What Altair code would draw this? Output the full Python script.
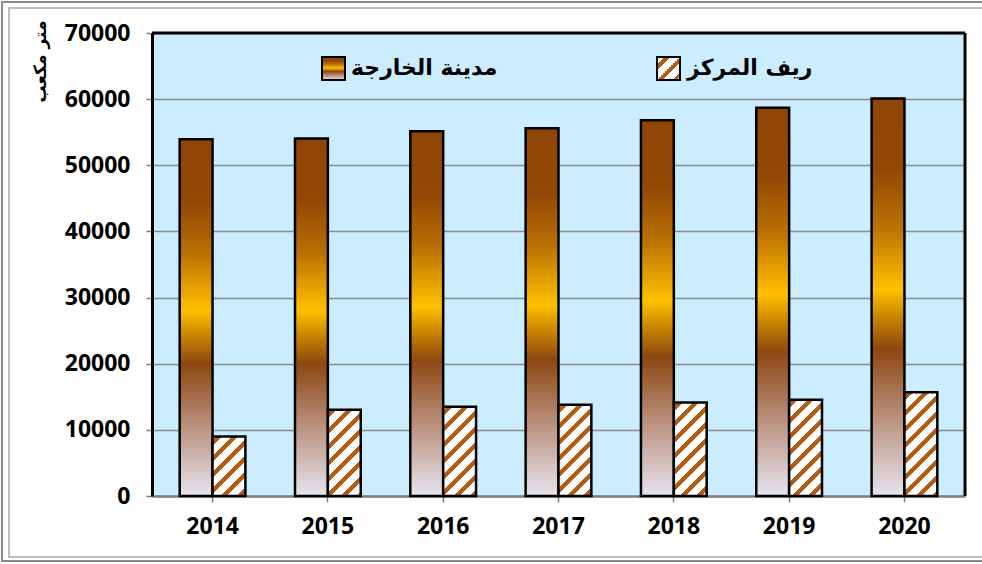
import altair as alt
import pandas as pd

# ---------------- data ----------------
years = ["2014", "2015", "2016", "2017", "2018", "2019", "2020"]
city_values = [53950, 54050, 55150, 55600, 56820, 58680, 60100]
rural_values = [9000, 13030, 13480, 13780, 14150, 14550, 15700]
series_names = ["مدينة الخارجة", "ريف المركز"]
y_ticks = [0, 10000, 20000, 30000, 40000, 50000, 60000, 70000]
y_title = "متر مكعب"

# ---------------- layout ----------------
W, H = 813, 463
Y_MAX = 70000
PAD_IN, PAD_OUT = 0.43, 0.24
NUM_FONT = "Open Sans"
AR_FONT = "DejaVu Sans"
STRIPE = "#B35C12"

rows = []
for yr, c, r in zip(years, city_values, rural_values):
    rows.append({"year": yr, "series": series_names[0], "value": c})
    rows.append({"year": yr, "series": series_names[1], "value": r})
df = pd.DataFrame(rows)

city_grad = alt.LinearGradient(
    gradient="linear", x1=0, y1=0, x2=0, y2=1,
    stops=[
        alt.GradientStop(offset=0.0, color="#8F4506"),
        alt.GradientStop(offset=0.18, color="#934905"),
        alt.GradientStop(offset=0.32, color="#BA7003"),
        alt.GradientStop(offset=0.48, color="#FFC000"),
        alt.GradientStop(offset=0.55, color="#C98600"),
        alt.GradientStop(offset=0.63, color="#8C4712"),
        alt.GradientStop(offset=0.80, color="#B98F7B"),
        alt.GradientStop(offset=1.0, color="#E6E4EE"),
    ],
)


def stripe_gradient(w, h, period=16.0, thick=6.0, phase=3.0):
    """45-degree stripes inside a w x h pixel box (objectBoundingBox units)."""
    c = w * (w + h) / (w * w + h * h)
    total = w + h
    stops = [alt.GradientStop(offset=0.0, color="white")]
    last = 0.0
    k = -1
    while k * period + phase < total:
        a = (k * period + phase) / total
        b = (k * period + phase + thick) / total
        a = min(max(a, 0.0), 1.0)
        b = min(max(b, 0.0), 1.0)
        if b > a:
            a = max(a, last)
            stops.append(alt.GradientStop(offset=round(a, 5), color="white"))
            stops.append(alt.GradientStop(offset=round(a, 5), color=STRIPE))
            stops.append(alt.GradientStop(offset=round(b, 5), color=STRIPE))
            stops.append(alt.GradientStop(offset=round(b, 5), color="white"))
            last = b
        k += 1
    stops.append(alt.GradientStop(offset=1.0, color="white"))
    return alt.LinearGradient(gradient="linear", x1=0, y1=0, x2=c, y2=c * h / w, stops=stops)


step = W / (len(years) - PAD_IN + 2 * PAD_OUT)
bar_w = step * (1 - PAD_IN) / 2

x_enc = alt.X(
    "year:N",
    sort=years,
    scale=alt.Scale(domain=years, paddingInner=PAD_IN, paddingOuter=PAD_OUT),
    axis=alt.Axis(
        title=None, labelAngle=0, labelFont=NUM_FONT, labelFontSize=23,
        labelFontWeight="bold", labelColor="black", labelPadding=13,
        domainColor="#7F7F7F", domainWidth=2.5, tickColor="#7F7F7F",
        tickSize=6, tickWidth=1.5, grid=False,
    ),
)
xo_enc = alt.XOffset(
    "series:N", scale=alt.Scale(domain=series_names, paddingInner=0, paddingOuter=0)
)
y_enc = alt.Y(
    "value:Q",
    scale=alt.Scale(domain=[0, Y_MAX], nice=False, zero=True),
    axis=alt.Axis(
        values=y_ticks, format="d", title=y_title, titleFont=AR_FONT,
        titleFontSize=17, titleFontWeight="bold", titleColor="black",
        titleAngle=270, titleX=-112, titleY=28, titleAlign="center",
        titleBaseline="middle", labelFont=NUM_FONT, labelFontSize=23,
        labelFontWeight="bold", labelColor="black", labelPadding=16,
        domainColor="black", domainWidth=3, tickColor="#7F7F7F",
        tickSize=6, tickWidth=1.5, grid=True, gridColor="#8C8C8C", gridWidth=1.5,
    ),
)

one = pd.DataFrame({"k": [0]})

# outer double frame
frame_outer = alt.Chart(one).mark_rect(fill="transparent", stroke="#8A8A8A", strokeWidth=2).encode(
    x=alt.value(-150), x2=alt.value(W + 40), y=alt.value(-31), y2=alt.value(H + 65)
)
frame_inner = alt.Chart(one).mark_rect(fill="transparent", stroke="#A8A8A8", strokeWidth=1.5).encode(
    x=alt.value(-143), x2=alt.value(W + 40), y=alt.value(-25), y2=alt.value(H + 61)
)

city_layer = alt.Chart(df).transform_filter(
    alt.datum.series == series_names[0]
).mark_bar(fill=city_grad, stroke="black", strokeWidth=2.5).encode(
    x=x_enc, xOffset=xo_enc, y=y_enc
)

rural_layers = []
for yr, r in zip(years, rural_values):
    h = r / Y_MAX * H
    rural_layers.append(
        alt.Chart(df).transform_filter(
            (alt.datum.series == series_names[1]) & (alt.datum.year == yr)
        ).mark_bar(fill=stripe_gradient(bar_w, h), stroke="black", strokeWidth=2.5).encode(
            x=x_enc, xOffset=xo_enc, y=y_enc
        )
    )

# borders (top and right)
top_rule = alt.Chart(one).mark_rule(color="black", strokeWidth=3).encode(
    x=alt.value(0), x2=alt.value(W), y=alt.value(0)
)
right_rule = alt.Chart(one).mark_rule(color="black", strokeWidth=3).encode(
    x=alt.value(W), y=alt.value(0), y2=alt.value(H)
)

# legend
SW = 23
leg_city_sw = alt.Chart(one).mark_rect(fill=city_grad, stroke="black", strokeWidth=2).encode(
    x=alt.value(170), x2=alt.value(170 + SW), y=alt.value(24), y2=alt.value(24 + SW)
)
leg_rural_sw = alt.Chart(one).mark_rect(
    fill=stripe_gradient(SW, SW, period=15, thick=5, phase=8), stroke="black", strokeWidth=2
).encode(
    x=alt.value(505), x2=alt.value(505 + SW), y=alt.value(24), y2=alt.value(24 + SW)
)
leg_df = pd.DataFrame({"label": series_names})
leg_city_tx = alt.Chart(leg_df).transform_filter(alt.datum.label == series_names[0]).mark_text(
    font=AR_FONT, fontSize=22, fontWeight="bold", color="black", align="left", baseline="middle"
).encode(text="label:N", x=alt.value(199), y=alt.value(35))
leg_rural_tx = alt.Chart(leg_df).transform_filter(alt.datum.label == series_names[1]).mark_text(
    font=AR_FONT, fontSize=22, fontWeight="bold", color="black", align="left", baseline="middle"
).encode(text="label:N", x=alt.value(535), y=alt.value(35))

chart = alt.layer(
    frame_outer, frame_inner, city_layer, *rural_layers, top_rule, right_rule,
    leg_city_sw, leg_rural_sw, leg_city_tx, leg_rural_tx,
).properties(
    width=W, height=H,
    autosize=alt.AutoSizeParams(type="none"),
    padding={"left": 152, "top": 33, "right": 17, "bottom": 68},
    background="white",
).configure_view(fill="#CCECFF", stroke="transparent")

chart.save("out.html", embed_options={"renderer": "svg", "actions": False})
